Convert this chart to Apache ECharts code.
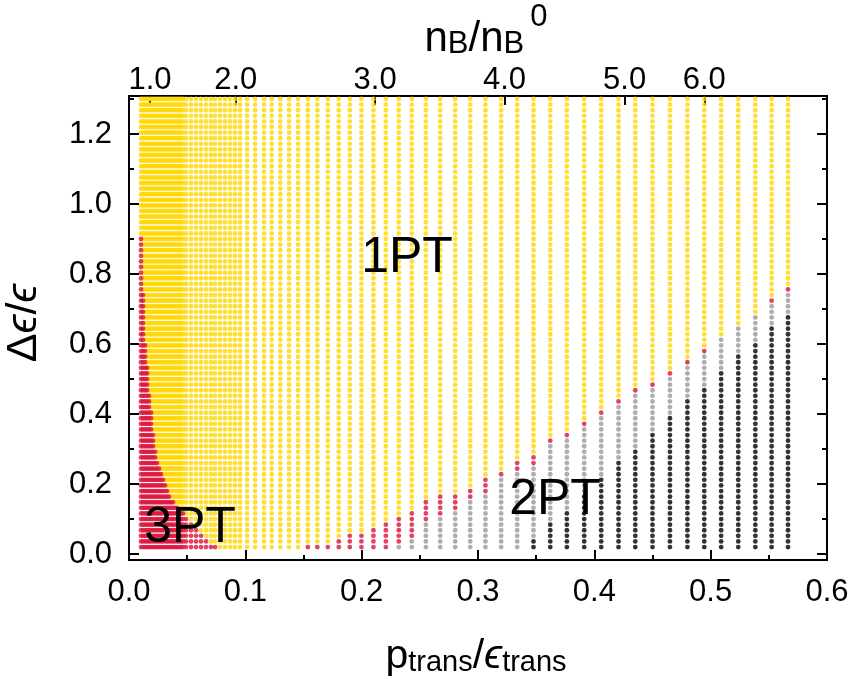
<!DOCTYPE html>
<html>
<head>
<meta charset="utf-8">
<script src="https://cdn.jsdelivr.net/npm/echarts@6/dist/echarts.min.js"></script>
<style>
html, body { margin: 0; padding: 0; background: #fff; }
#chart { width: 852px; height: 679px; }
</style>
</head>
<body>
<div id="chart"></div>
<script>
// column positions (p_trans / eps_trans)
const colX = [0.0103, 0.0120, 0.0138, 0.0155, 0.0172, 0.0189, 0.0206, 0.0224, 0.0241, 0.0258,
  0.0275, 0.0292, 0.0310, 0.0327, 0.0344, 0.0361, 0.0378, 0.0396, 0.0413, 0.0430,
  0.0447, 0.0464, 0.0490, 0.0533, 0.0576, 0.0619, 0.0662, 0.0705, 0.0740, 0.0783,
  0.0826, 0.0869, 0.0912, 0.0955, 0.1015, 0.1084, 0.1161, 0.1227, 0.1301, 0.1376,
  0.1453, 0.1537, 0.1619, 0.1709, 0.1803, 0.1898, 0.1998, 0.2101, 0.2208, 0.2319,
  0.2431, 0.2552, 0.2675, 0.2804, 0.2933, 0.3064, 0.3199, 0.3337, 0.3477, 0.3621,
  0.3764, 0.3913, 0.4059, 0.4208, 0.4352, 0.4500, 0.4650, 0.4800, 0.4945, 0.5090,
  0.5237, 0.5384, 0.5524, 0.5665];

// row positions (delta eps / eps)
const rowY = [0.02, 0.036, 0.052, 0.068, 0.084, 0.1, 0.116, 0.132, 0.148, 0.164,
  0.18, 0.196, 0.212, 0.228, 0.244, 0.26, 0.276, 0.292, 0.308, 0.324,
  0.34, 0.356, 0.372, 0.388, 0.404, 0.42, 0.436, 0.452, 0.468, 0.484,
  0.5, 0.516, 0.532, 0.548, 0.564, 0.58, 0.596, 0.612, 0.628, 0.644,
  0.66, 0.676, 0.692, 0.708, 0.724, 0.74, 0.756, 0.772, 0.788, 0.804,
  0.82, 0.836, 0.852, 0.868, 0.884, 0.9, 0.916, 0.932, 0.948, 0.964,
  0.98, 0.996, 1.012, 1.028, 1.044, 1.06, 1.076, 1.092, 1.108, 1.124,
  1.14, 1.156, 1.172, 1.188, 1.204, 1.22, 1.236, 1.252, 1.268, 1.284, 1.3];

// per column, counted from the bottom row: black, then grey, then red; the rest is yellow
const nBlack = [0, 0, 0, 0, 0, 0, 0, 0, 0, 0,  0, 0, 0, 0, 0, 0, 0, 0, 0, 0,
  0, 0, 0, 0, 0, 0, 0, 0, 0, 0,  0, 0, 0, 0, 0, 0, 0, 0, 0, 0,
  0, 0, 0, 0, 0, 0, 0, 0, 0, 0,  0, 0, 0, 0, 0, 0, 0, 0, 2, 5,
  7, 10, 13, 16, 18, 21, 24, 27, 29, 32,  35, 37, 40, 42];
const nGray = [0, 0, 0, 0, 0, 0, 0, 0, 0, 0,  0, 0, 0, 0, 0, 0, 0, 0, 0, 0,
  0, 0, 0, 0, 0, 0, 0, 0, 0, 0,  0, 0, 0, 0, 0, 0, 0, 0, 0, 0,
  0, 0, 0, 0, 0, 0, 0, 0, 0, 1,  2, 5, 6, 7, 9, 10, 13, 14, 13, 14,
  13, 12, 11, 10, 10, 8, 7, 6, 6, 6,  5, 5, 4, 4];
const nRed = [56, 46, 37, 33, 28, 25, 21, 18, 16, 15,  14, 13, 12, 11, 10, 9, 9, 8, 8, 7,
  7, 7, 6, 5, 4, 3, 2, 1, 1, 0,  0, 0, 0, 0, 0, 0, 0, 0, 0, 0,
  0, 1, 1, 1, 2, 3, 3, 4, 5, 5,  5, 4, 4, 3, 2, 3, 1, 2, 2, 1,
  1, 1, 1, 1, 1, 1, 1, 1, 1, 0,  0, 0, 1, 1];

// top axis n_B / n_B^0
const nbTickPos = [0.0181, 0.0918, 0.2116, 0.3228, 0.4260, 0.4945];
const nbTickLabels = ['1.0', '2.0', '3.0', '4.0', '5.0', '6.0'];

const yMajor = [0, 0.2, 0.4, 0.6, 0.8, 1.0, 1.2];
const yMinor = [0.1, 0.3, 0.5, 0.7, 0.9, 1.1, 1.3];

const FONT = 'Liberation Sans';

const yellowPts = [], redPts = [], grayPts = [], blackPts = [];
colX.forEach((x, i) => {
  const b = nBlack[i], g = b + nGray[i], r = g + nRed[i];
  rowY.forEach((y, k) => {
    if (k < b) blackPts.push([x, y]);
    else if (k < g) grayPts.push([x, y]);
    else if (k < r) redPts.push([x, y]);
    else yellowPts.push([x, y]);
  });
});

const tickStyle = { color: '#000', width: 2 };
const labelStyle = { color: '#000', fontSize: 31, fontFamily: FONT };

function yTicks(position, values, len, label) {
  return {
    type: 'value', position: position, min: -0.017, max: 1.3086,
    axisLine: { show: false, onZero: false },
    axisTick: { show: true, inside: true, length: len, customValues: values, lineStyle: tickStyle },
    axisLabel: label
      ? Object.assign({ show: true, customValues: values, margin: 17, formatter: v => v.toFixed(1) }, labelStyle)
      : { show: false },
    splitLine: { show: false }
  };
}

function dots(data, color) {
  return {
    type: 'scatter', data: data, symbol: 'circle', symbolSize: 4.8,
    itemStyle: { color: color }, silent: true, animation: false,
    progressive: 0, large: false, z: 2
  };
}

function regionLabel(text, x, y) {
  return { type: 'text', z: 100, zlevel: 2, x: x, y: y,
    style: { text: text, fontSize: 50, fontFamily: FONT, fill: '#000', opacity: 1,
      align: 'center', verticalAlign: 'middle' } };
}

const chart = echarts.init(document.getElementById('chart'), null, { renderer: 'canvas' });

chart.setOption({
  backgroundColor: '#fff',
  animation: false,
  grid: {
    left: 129, right: 25, top: 96, bottom: 119,
    show: true, borderColor: '#000', borderWidth: 2, backgroundColor: 'transparent'
  },
  xAxis: [
    {
      type: 'value', position: 'bottom', min: 0, max: 0.6, interval: 0.1,
      axisLine: { show: false, onZero: false },
      axisTick: { show: true, inside: true, length: 10, lineStyle: tickStyle },
      minorTick: { show: true, splitNumber: 2, length: 5, lineStyle: tickStyle },
      axisLabel: Object.assign({ margin: 17, showMinLabel: true, showMaxLabel: true,
        formatter: v => v.toFixed(1) }, labelStyle),
      splitLine: { show: false }, minorSplitLine: { show: false }
    },
    {
      type: 'value', position: 'top', min: 0, max: 0.6,
      axisLine: { show: false, onZero: false },
      axisTick: { show: true, inside: true, length: 9, customValues: nbTickPos, lineStyle: tickStyle },
      axisLabel: Object.assign({ show: true, customValues: nbTickPos, margin: 0,
        formatter: v => {
          let best = 0;
          nbTickPos.forEach((p, i) => { if (Math.abs(p - v) < Math.abs(nbTickPos[best] - v)) best = i; });
          return nbTickLabels[best];
        } }, labelStyle),
      splitLine: { show: false }
    }
  ],
  yAxis: [
    yTicks('left', yMajor, 10, true),
    yTicks('left', yMinor, 5, false),
    yTicks('right', yMajor, 10, false),
    yTicks('right', yMinor, 5, false)
  ],
  series: [
    dots(yellowPts, '#FFD700'),
    dots(redPts, '#DC143C'),
    dots(grayPts, '#9A9A9A'),
    dots(blackPts, '#000000')
  ],
  graphic: [
    regionLabel('1PT', 407, 258),
    regionLabel('2PT', 555, 500),
    regionLabel('3PT', 190, 528),
    { type: 'text', z: 100, x: 476, y: 653,
      style: {
        text: '{a|p}{b|trans}{a|/}{e|ϵ}{b|trans}', align: 'center', verticalAlign: 'middle', fill: '#000',
        rich: {
          a: { fontSize: 41, fontFamily: FONT, lineHeight: 48, verticalAlign: 'bottom', fill: '#000' },
          e: { fontSize: 41, fontFamily: FONT, fontStyle: 'italic', lineHeight: 48, verticalAlign: 'bottom', fill: '#000' },
          b: { fontSize: 29, fontFamily: FONT, lineHeight: 18, verticalAlign: 'bottom', fill: '#000' }
        }
      } },
    { type: 'text', z: 100, x: 24, y: 323, rotation: Math.PI / 2,
      style: {
        text: '{a|Δ}{e|ϵ}{a|/}{e|ϵ}', align: 'center', verticalAlign: 'middle', fill: '#000',
        rich: {
          a: { fontSize: 43, fontFamily: FONT, fill: '#000' },
          e: { fontSize: 43, fontFamily: FONT, fontStyle: 'italic', fill: '#000' }
        }
      } },
    { type: 'text', z: 100, x: 486, y: 31,
      style: {
        text: '{a|n}{b|B}{a|/n}{b|B}{c|0}', align: 'center', verticalAlign: 'middle', fill: '#000',
        rich: {
          a: { fontSize: 42, fontFamily: FONT, lineHeight: 58, verticalAlign: 'bottom', fill: '#000' },
          b: { fontSize: 31, fontFamily: FONT, lineHeight: 22, verticalAlign: 'bottom', fill: '#000' },
          c: { fontSize: 31, fontFamily: FONT, lineHeight: 24, verticalAlign: 'top', fill: '#000', padding: [0, 0, 0, 6] }
        }
      } }
  ]
});
</script>
</body>
</html>
